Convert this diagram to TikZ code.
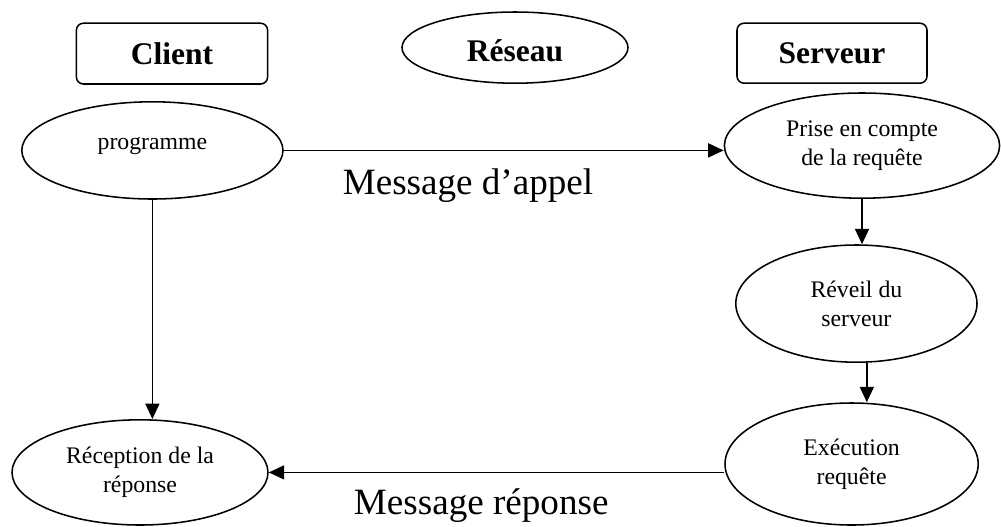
\documentclass[tikz,border=0pt]{standalone}
\usepackage{fontspec}
\setmainfont{Liberation Serif}
\usetikzlibrary{shapes.geometric, arrows.meta}

\tikzset{
  titlebox/.style={draw, line width=1.1pt, font=\fontsize{22.4}{26}\selectfont\bfseries},
  stepnode/.style={draw, ellipse, line width=1.1pt, align=center, inner sep=0pt, font=\fontsize{16.9}{20.8}\selectfont},
  flow/.style={line width=1.2pt, -{Triangle[length=11pt, width=10pt]}},
  msg/.style={font=\fontsize{26.4}{30}\selectfont}
}

\begin{document}
\begin{tikzpicture}
  \useasboundingbox (0,0) rectangle (25.025,-13.15);

  % headers
  \node[titlebox, rounded corners=5pt, minimum width=4.78cm, minimum height=1.52cm] (client) at (4.30,-1.34) {Client};
  \node[titlebox, ellipse, minimum width=5.65cm, minimum height=1.78cm, text height=20pt] (reseau) at (12.875,-1.19) {Réseau};
  \node[titlebox, rounded corners=5pt, minimum width=4.75cm, minimum height=1.5cm] (serveur) at (20.8,-1.33) {Serveur};

  % steps
  \node[stepnode, minimum width=6.53cm, minimum height=2.43cm, text depth=10pt] (programme) at (3.81,-3.76) {programme};
  \node[stepnode, minimum width=6.88cm, minimum height=2.63cm] (prise) at (21.55,-3.64) {Prise en compte\\de la requête};
  \node[stepnode, minimum width=6.03cm, minimum height=2.93cm] (reveil) at (21.41,-7.59) {Réveil du\\serveur};
  \node[stepnode, minimum width=6.33cm, minimum height=3.05cm] (execution) at (21.29,-11.6) {Exécution\\requête};
  \node[stepnode, minimum width=6.4cm, minimum height=2.63cm] (reception) at (3.5,-11.81) {Réception de la\\réponse};

  \node[msg] (appel) at (11.7,-4.65) {Message d'appel};
  \node[msg] (reponse) at (12.03,-12.65) {Message réponse};

  \draw[flow] (programme.east) -- (programme.east -| prise.west);
  \draw[flow] (programme.south) -- (programme.south |- reception.north);
  \draw[flow] (prise.south) -- (prise.south |- reveil.north);
  \draw[flow] (reveil.-80) -- (reveil.-80 |- execution.north);
  \draw[flow] (execution.west |- reception.east) -- (reception.east);
\end{tikzpicture}
\end{document}
